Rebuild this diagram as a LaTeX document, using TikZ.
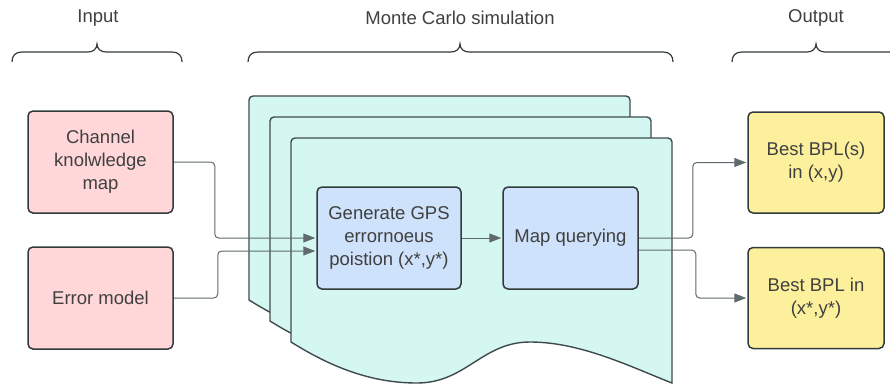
\documentclass[tikz,border=0pt]{standalone}
\usepackage{fontspec}
\setmainfont{Liberation Sans}
\usetikzlibrary{arrows.meta,calc}
\definecolor{txt}{HTML}{404040}
\definecolor{edge}{HTML}{333A3C}
\definecolor{docedge}{HTML}{3E4B4E}
\definecolor{conn}{HTML}{5E6A6D}
\definecolor{pinkf}{HTML}{FFD7D8}
\definecolor{cyanf}{HTML}{D5F7F1}
\definecolor{bluef}{HTML}{CFE2FB}
\definecolor{yellf}{HTML}{FDF09C}
\tikzset{
  box/.style={draw=edge, line width=1.5pt, rounded corners=5pt, align=center, text=txt, inner sep=0pt},
  inbox/.style={box, fill=pinkf, minimum width=145pt, minimum height=102pt},
  midbox/.style={box, fill=bluef, minimum width=144pt, minimum height=102pt},
  outbox/.style={box, fill=yellf, minimum width=136pt, minimum height=101pt},
  title/.style={text=txt},
  brace/.style={draw=edge, line width=1.2pt},
  doc/.style={draw=docedge, line width=1.4pt, fill=cyanf},
  conn/.style={draw=conn, line width=1pt, rounded corners=4pt, -{Triangle[length=12pt,width=9pt]}, shorten >=1pt}
}
\newcommand{\docpath}[2]{%
  \begin{scope}[shift={(#1,#2)}]
  \path[doc] (291,342) -- (291,142) .. controls (291,139.8) and (292.8,138) .. (295,138)
    -- (668,138) .. controls (670.2,138) and (672,139.8) .. (672,142)
    -- (672,383) .. controls (631,367) and (581,342) .. (530,342)
    .. controls (482,342) and (466,383) .. (417,383)
    .. controls (371,383) and (331,367) .. (291,342) -- cycle;
  \end{scope}}
\newcommand{\bracepath}[3]{%
  \path[brace] (#1,62) .. controls (#1,56) and ({#1+3},52) .. ({#1+10},52)
    -- ({#2-9},52) .. controls ({#2-4},52) and (#2,49) .. (#2,44)
    .. controls (#2,49) and ({#2+4},52) .. ({#2+9},52)
    -- ({#3-10},52) .. controls ({#3-3},52) and (#3,56) .. (#3,62);}
\begin{document}
\begin{tikzpicture}[x=1pt,y=-1pt,font=\fontsize{18.5}{23}\selectfont]
\useasboundingbox (0,0) rectangle (890,385);
% titles and braces
\node[title] (tin) at (98,18) {Input};
\node[title] (tmc) at (460,18) {Monte Carlo simulation};
\node[title] (tout) at (816,18) {Output};
\bracepath{12}{97}{182}
\bracepath{248}{460}{673}
\bracepath{732}{816}{900}
% stacked documents
\docpath{-42}{-42}
\docpath{-21}{-21}
\docpath{0}{0}
% boxes
\node[inbox] (ch) at (100.5,162) {Channel\\knolwledge\\map};
\node[inbox] (err) at (100.5,298) {Error model};
\node[midbox] (gen) at (389,238) {Generate GPS\\errornoeus\\poistion (x*,y*)};
\node[midbox, minimum width=135pt] (map) at (570.5,238) {Map querying};
\node[outbox] (o1) at (816,162.5) {Best BPL(s)\\in (x,y)};
\node[outbox] (o2) at (816,298) {Best BPL in\\(x*,y*)};
% connectors
\draw[conn] (ch.east) -- ++(41,0) |- (gen.west);
\draw[conn] (err.east) -- ++(44,0) |- ($(gen.west)+(0,13)$);
\draw[conn] (gen.east) -- (map.west);
\draw[conn] (map.east) -- ++(54,0) |- (o1.west);
\draw[conn] ($(map.east)+(0,12)$) -- ++(57,0) |- (o2.west);
\end{tikzpicture}
\end{document}
